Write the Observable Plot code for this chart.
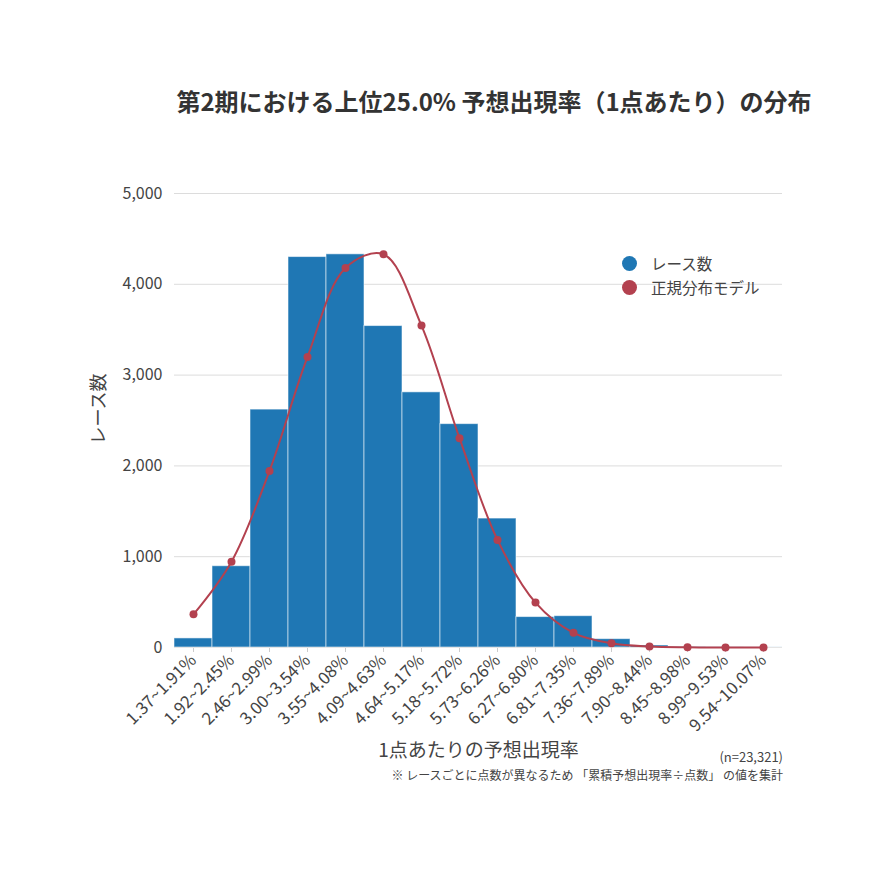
<!DOCTYPE html>
<html>
<head>
<meta charset="utf-8">
<script src="https://cdn.jsdelivr.net/npm/d3@7"></script>
<script src="https://cdn.jsdelivr.net/npm/@observablehq/plot@0.6"></script>
<style>
  body { margin: 0; background: #fff; font-family: "Noto Sans CJK JP", "Noto Sans", sans-serif; }
  #wrap { position: relative; width: 870px; height: 870px; }
  .abs { position: absolute; white-space: nowrap; color: #444; }
</style>
</head>
<body>
<div id="wrap"></div>
<script>
const categories = ["1.37~1.91%", "1.92~2.45%", "2.46~2.99%", "3.00~3.54%", "3.55~4.08%", "4.09~4.63%", "4.64~5.17%", "5.18~5.72%", "5.73~6.26%", "6.27~6.80%", "6.81~7.35%", "7.36~7.89%", "7.90~8.44%", "8.45~8.98%", "8.99~9.53%", "9.54~10.07%"];
const raceCounts = [100, 895, 2620, 4300, 4330, 3540, 2810, 2460, 1420, 335, 345, 92, 22, 4, 2, 1];
const normalModel = [365, 945, 1945, 3200, 4180, 4330, 3545, 2305, 1185, 495, 162, 47, 11, 2, 0, 0];
const yTicks = [0, 1000, 2000, 3000, 4000, 5000];
const titleText = "第2期における上位25.0% 予想出現率（1点あたり）の分布";
const xLabel = "1点あたりの予想出現率";
const yLabel = "レース数";
const nText = "(n=23,321)";
const noteText = "※ レースごとに点数が異なるため 「累積予想出現率÷点数」 の値を集計";
const seriesNames = ["レース数", "正規分布モデル"];
const colors = ["#1f77b4", "#b3414f"];

const data = categories.map((c, i) => ({cat: c, count: raceCounts[i], model: normalModel[i]}));

const chart = Plot.plot({
  width: 870,
  height: 870,
  marginLeft: 174,
  marginRight: 88,
  marginTop: 193,
  marginBottom: 223,
  style: {fontFamily: '"Noto Sans CJK JP", "Noto Sans", sans-serif', fontSize: "16px", color: "#444", background: "white"},
  x: {domain: categories, padding: 0, label: null, tickRotate: -45, tickSize: 5, tickPadding: 5},
  y: {domain: [0, 5000], ticks: yTicks, tickFormat: d3.format(","), label: null, tickSize: 0, tickPadding: 12},
  marks: [
    Plot.gridY(yTicks, {stroke: "#dcdcdc", strokeOpacity: 1}),
    Plot.barY(data, {x: "cat", y: "count", fill: colors[0], stroke: "#ffffff", strokeOpacity: 0.55, strokeWidth: 1}),
    Plot.line(data, {x: "cat", y: "model", stroke: colors[1], strokeWidth: 2, curve: "catmull-rom"}),
    Plot.dot(data, {x: "cat", y: "model", fill: colors[1], r: 4})
  ]
});

const wrap = document.getElementById("wrap");
wrap.appendChild(chart);
chart.querySelectorAll('[aria-label="x-axis tick"]').forEach(e => e.setAttribute("stroke", "#ccc"));
chart.querySelectorAll('[aria-label="x-axis tick label"]').forEach(e => e.setAttribute("font-size", "17px"));

function addDiv(text, css) {
  const d = document.createElement("div");
  d.className = "abs";
  d.textContent = text;
  Object.assign(d.style, css);
  wrap.appendChild(d);
  return d;
}
addDiv(titleText, {left: "0", width: "988px", textAlign: "center", top: "83px", fontSize: "24px", fontWeight: "bold", color: "#333"});
addDiv(xLabel, {left: "174px", width: "609px", textAlign: "center", top: "735px", fontSize: "19px", color: "#444"});
addDiv(nText, {right: "87px", top: "747px", fontSize: "13px", color: "#444"});
addDiv(noteText, {right: "87px", top: "766px", fontSize: "12px", color: "#444"});
addDiv(yLabel, {left: "97px", top: "409px", fontSize: "18px", color: "#444", transform: "translate(-50%, -50%) rotate(-90deg)"});

// legend
seriesNames.forEach((name, i) => {
  const row = document.createElement("div");
  row.className = "abs";
  Object.assign(row.style, {left: "622px", top: (252 + i * 24) + "px", fontSize: "15.5px", display: "flex", alignItems: "center", color: "#444"});
  const sw = document.createElement("span");
  Object.assign(sw.style, {display: "inline-block", width: "15px", height: "15px", borderRadius: "50%", background: colors[i], marginRight: "14px"});
  row.appendChild(sw);
  row.appendChild(document.createTextNode(name));
  wrap.appendChild(row);
});
</script>
</body>
</html>
